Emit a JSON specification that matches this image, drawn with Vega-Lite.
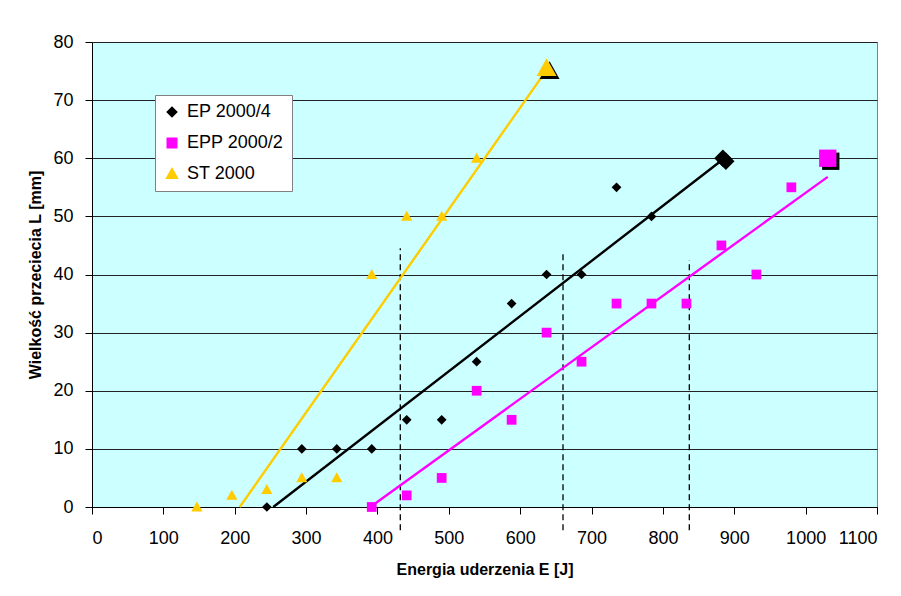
{
  "$schema": "https://vega.github.io/schema/vega-lite/v6.json",
  "width": 785,
  "height": 465,
  "autosize": {"type": "none"},
  "padding": {"left": 92, "top": 42, "right": 24, "bottom": 89},
  "background": "white",
  "config": {
    "font": "Liberation Sans",
    "view": {"fill": "#ccffff", "stroke": "#808080", "strokeWidth": 1},
    "axis": {"labelFont": "Liberation Sans", "titleFont": "Liberation Sans", "labelFontSize": 18, "labelColor": "black", "titleFontSize": 16, "titleFontWeight": "bold", "titleColor": "black", "domainColor": "black", "tickColor": "black", "tickSize": 7}
  },
  "datasets": {
    "pomiary": [
      {"seria": "EP 2000/4", "E": 245, "L": 0},
      {"seria": "EP 2000/4", "E": 294, "L": 10},
      {"seria": "EP 2000/4", "E": 343, "L": 10},
      {"seria": "EP 2000/4", "E": 392, "L": 10},
      {"seria": "EP 2000/4", "E": 441, "L": 15},
      {"seria": "EP 2000/4", "E": 490, "L": 15},
      {"seria": "EP 2000/4", "E": 539, "L": 25},
      {"seria": "EP 2000/4", "E": 588, "L": 35},
      {"seria": "EP 2000/4", "E": 637, "L": 40},
      {"seria": "EP 2000/4", "E": 686, "L": 40},
      {"seria": "EP 2000/4", "E": 735, "L": 55},
      {"seria": "EP 2000/4", "E": 784, "L": 50},
      {"seria": "EPP 2000/2", "E": 392, "L": 0},
      {"seria": "EPP 2000/2", "E": 441, "L": 2},
      {"seria": "EPP 2000/2", "E": 490, "L": 5},
      {"seria": "EPP 2000/2", "E": 539, "L": 20},
      {"seria": "EPP 2000/2", "E": 588, "L": 15},
      {"seria": "EPP 2000/2", "E": 637, "L": 30},
      {"seria": "EPP 2000/2", "E": 686, "L": 25},
      {"seria": "EPP 2000/2", "E": 735, "L": 35},
      {"seria": "EPP 2000/2", "E": 784, "L": 35},
      {"seria": "EPP 2000/2", "E": 833, "L": 35},
      {"seria": "EPP 2000/2", "E": 882, "L": 45},
      {"seria": "EPP 2000/2", "E": 931, "L": 40},
      {"seria": "EPP 2000/2", "E": 980, "L": 55},
      {"seria": "ST 2000", "E": 147, "L": 0},
      {"seria": "ST 2000", "E": 196, "L": 2},
      {"seria": "ST 2000", "E": 245, "L": 3},
      {"seria": "ST 2000", "E": 294, "L": 5},
      {"seria": "ST 2000", "E": 343, "L": 5},
      {"seria": "ST 2000", "E": 392, "L": 40},
      {"seria": "ST 2000", "E": 441, "L": 50},
      {"seria": "ST 2000", "E": 490, "L": 50},
      {"seria": "ST 2000", "E": 539, "L": 60}
    ],
    "koniec": [
      {"seria": "EP 2000/4", "E": 884, "L": 60},
      {"seria": "EPP 2000/2", "E": 1031, "L": 60},
      {"seria": "ST 2000", "E": 637, "L": 75.5}
    ],
    "trend": [
      {"seria": "EP 2000/4", "E": 254, "L": 0},
      {"seria": "EP 2000/4", "E": 883, "L": 59.7},
      {"seria": "EPP 2000/2", "E": 390, "L": 0},
      {"seria": "EPP 2000/2", "E": 1031, "L": 56.8},
      {"seria": "ST 2000", "E": 207, "L": 0},
      {"seria": "ST 2000", "E": 636, "L": 75}
    ],
    "granice": [
      {"E": 432, "L0": -4, "L1": 44.5},
      {"E": 660, "L0": -4, "L1": 43.8},
      {"E": 837, "L0": -4, "L1": 42.5}
    ]
  },
  "layer": [
    {
      "data": {"name": "granice"},
      "mark": {"type": "rule", "clip": false, "color": "black", "strokeWidth": 1.3, "strokeDash": [6, 4]},
      "encoding": {
        "x": {"field": "E", "type": "quantitative", "scale": {"domain": [0, 1100]}},
        "y": {"field": "L0", "type": "quantitative", "scale": {"domain": [0, 80]}},
        "y2": {"field": "L1"}
      }
    },
    {
      "data": {"name": "trend"},
      "mark": {"type": "line", "strokeWidth": 2.4},
      "encoding": {
        "x": {"field": "E", "type": "quantitative"},
        "y": {"field": "L", "type": "quantitative"},
        "detail": {"field": "seria"},
        "color": {"field": "seria", "type": "nominal"}
      }
    },
    {
      "data": {"name": "pomiary"},
      "mark": {"type": "point", "filled": true, "opacity": 1, "size": 95},
      "encoding": {
        "x": {"field": "E", "type": "quantitative", "scale": {"domain": [0, 1100]},
          "axis": {"title": "Energia uderzenia E [J]", "format": "d", "values": [0,100,200,300,400,500,600,700,800,900,1000,1100], "grid": false, "labelPadding": 15, "titlePadding": 14}},
        "y": {"field": "L", "type": "quantitative", "scale": {"domain": [0, 80]},
          "axis": {"title": "Wielkość przeciecia L [mm]", "values": [0,10,20,30,40,50,60,70,80], "grid": true, "gridColor": "#222222", "gridWidth": 1, "gridOpacity": 1, "labelPadding": 12, "titlePadding": 9}},
        "color": {"field": "seria", "type": "nominal",
          "scale": {"domain": ["EP 2000/4", "EPP 2000/2", "ST 2000"], "range": ["#000000", "#ff00ff", "#ffcc00"]},
          "legend": {"title": null, "orient": "none", "legendX": 63, "legendY": 53, "fillColor": "white", "strokeColor": "#808080", "padding": 8, "labelFontSize": 18, "labelFont": "Liberation Sans", "labelColor": "black", "rowPadding": 13, "labelOffset": 6, "symbolOpacity": 1, "symbolSize": 90, "labelLimit": 200}},
        "shape": {"field": "seria", "type": "nominal",
          "scale": {"domain": ["EP 2000/4", "EPP 2000/2", "ST 2000"], "range": ["diamond", "square", "M0,-1.15L1.15,0.9L-1.15,0.9Z"]}}
      }
    },
    {
      "data": {"name": "koniec"},
      "mark": {"type": "point", "filled": true, "size": 300, "opacity": 1, "color": "black", "xOffset": 3, "yOffset": 3},
      "encoding": {
        "x": {"field": "E", "type": "quantitative"},
        "y": {"field": "L", "type": "quantitative"},
        "shape": {"field": "seria", "type": "nominal"}
      }
    },
    {
      "data": {"name": "koniec"},
      "mark": {"type": "point", "filled": true, "size": 300, "opacity": 1},
      "encoding": {
        "x": {"field": "E", "type": "quantitative"},
        "y": {"field": "L", "type": "quantitative"},
        "color": {"field": "seria", "type": "nominal"},
        "shape": {"field": "seria", "type": "nominal"}
      }
    }
  ]
}
